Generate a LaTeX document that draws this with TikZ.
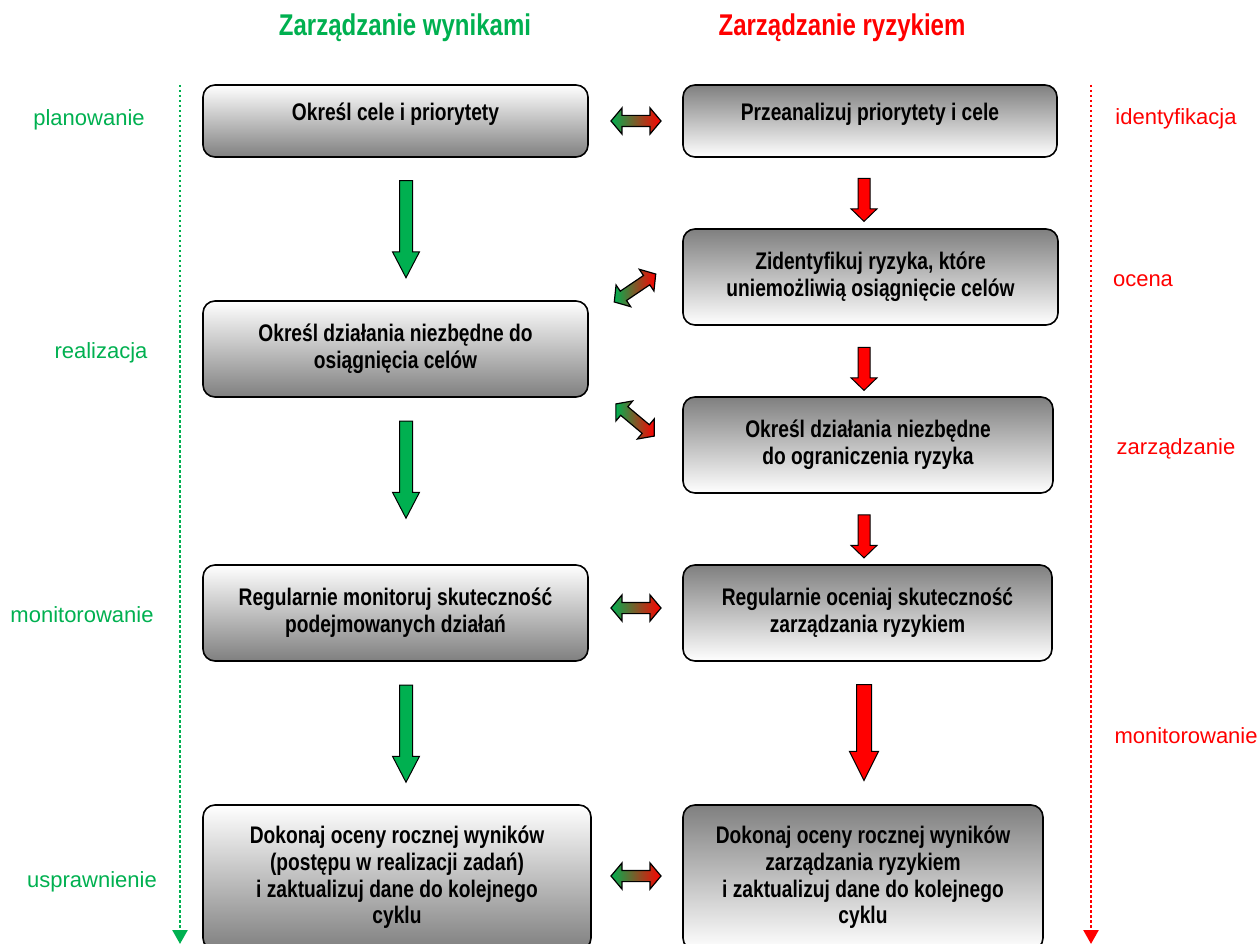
\documentclass[tikz,border=0pt]{standalone}
\usepackage{fontspec}
\setmainfont{Liberation Sans}
\newfontfamily\narrowfont[FakeStretch=0.8]{Liberation Sans}
\usetikzlibrary{shapes.arrows,arrows.meta}
\definecolor{wgreen}{RGB}{0,176,80}
\definecolor{rred}{RGB}{255,0,0}
\tikzset{every picture/.style={x=1pt,y=-1pt}}
\tikzset{lbox/.style={draw,line width=1.6pt,rounded corners=12pt,top color=white,bottom color=black!50,
    minimum width=385pt,minimum height=96pt,inner sep=0pt,align=center,
    font=\narrowfont\bfseries\fontsize{24}{26.7}\selectfont}}
\tikzset{rbox/.style={lbox,top color=black!50,bottom color=white}}
\tikzset{head/.style={anchor=base,font=\narrowfont\bfseries\fontsize{30}{34}\selectfont}}
\tikzset{phase/.style={anchor=base,font=\fontsize{22}{26}\selectfont}}
\tikzset{garrow/.style={single arrow,draw=black,line width=1pt,fill=wgreen,rotate=-90,
    inner xsep=0pt,inner ysep=6pt,single arrow head extend=7pt,single arrow tip angle=55,
    minimum height=97pt,minimum width=26pt}}
\tikzset{rarrow/.style={garrow,fill=rred,inner ysep=5.5pt,single arrow head extend=7pt,
    single arrow tip angle=92,minimum height=43pt,minimum width=25pt}}
\tikzset{darrow/.style={double arrow,draw=black,line width=1.2pt,left color=wgreen,right color=rred,
    inner xsep=0pt,inner ysep=5pt,double arrow head extend=7.5pt,double arrow tip angle=100,
    minimum height=50pt,minimum width=25pt}}
\tikzset{timeline/.style={line width=2.5pt,dash pattern=on 2.5pt off 2.5pt,-{Triangle[width=15pt,length=14pt]}}}

\begin{document}
\begin{tikzpicture}
    \useasboundingbox (0,0) rectangle (1259,944);
    % headers
    \node [head,wgreen] (hwyn) at (405,36) {Zarządzanie wynikami};
    \node [head,rred] (hryz) at (842,36) {Zarządzanie ryzykiem};
    % left column
    \node [lbox,minimum height=72pt] (plan) at (395.5,121) {\smash{Określ cele i priorytety}};
    \node [lbox] (realiz) at (395.5,349) {Określ działania niezbędne do\\osiągnięcia celów};
    \node [lbox] (monit) at (395.5,613) {Regularnie monitoruj skuteczność\\podejmowanych działań};
    \node [lbox,minimum width=388pt,minimum height=145pt] (uspraw) at (397,877.5)
        {Dokonaj oceny rocznej wyników\\(postępu w realizacji zadań)\\i zaktualizuj dane do kolejnego\\cyklu};
    % right column
    \node [rbox,minimum width=374pt,minimum height=72pt] (ident) at (870,121) {\smash{Przeanalizuj priorytety i cele}};
    \node [rbox,minimum width=375pt] (ocen) at (870.5,277) {Zidentyfikuj ryzyka, które\\uniemożliwią osiągnięcie celów};
    \node [rbox,minimum width=370pt] (zarz) at (868,445) {Określ działania niezbędne\\do ograniczenia ryzyka};
    \node [rbox,minimum width=369pt] (monitr) at (867.5,613) {Regularnie oceniaj skuteczność\\zarządzania ryzykiem};
    \node [rbox,minimum width=360pt,minimum height=145pt] (usprawr) at (863,877.5)
        {Dokonaj oceny rocznej wyników\\zarządzania ryzykiem\\i zaktualizuj dane do kolejnego\\cyklu};
    % block arrows
    \node [garrow] (g1) at (406,223) {};
    \node [garrow] (g2) at (406,463.5) {};
    \node [garrow] (g3) at (406,727.5) {};
    \node [rarrow] (r1) at (864,197) {};
    \node [rarrow] (r2) at (864,366) {};
    \node [rarrow] (r3) at (864,533.5) {};
    \node [rarrow,inner ysep=7pt,single arrow tip angle=53,minimum height=96pt,minimum width=28pt] (r4) at (864,725) {};
    % links between columns
    \node [darrow] (d1) at (636,121) {};
    \node [darrow,rotate=34] (d2) at (635,288) {};
    \node [darrow,rotate=-40] (d3) at (635,420) {};
    \node [darrow] (d4) at (636,608) {};
    \node [darrow] (d5) at (636,876) {};
    % phases
    \coordinate (gtop) at (180,85);
    \coordinate (gbot) at (180,944);
    \coordinate (rtop) at (1091,85);
    \coordinate (rbot) at (1091,944);
    \draw [timeline,wgreen] (gtop) -- (gbot);
    \draw [timeline,rred] (rtop) -- (rbot);
    \node [phase,wgreen] (p1) at (89,126) {planowanie};
    \node [phase,wgreen] (p2) at (101,358) {realizacja};
    \node [phase,wgreen] (p3) at (82,622) {monitorowanie};
    \node [phase,wgreen] (p4) at (92,887) {usprawnienie};
    \node [phase,rred] (q1) at (1176,125) {identyfikacja};
    \node [phase,rred] (q2) at (1143,287) {ocena};
    \node [phase,rred] (q3) at (1176,454) {zarządzanie};
    \node [phase,rred,anchor=base west] (q4) at (1111,743) {monitorowanie};
\end{tikzpicture}
\end{document}
